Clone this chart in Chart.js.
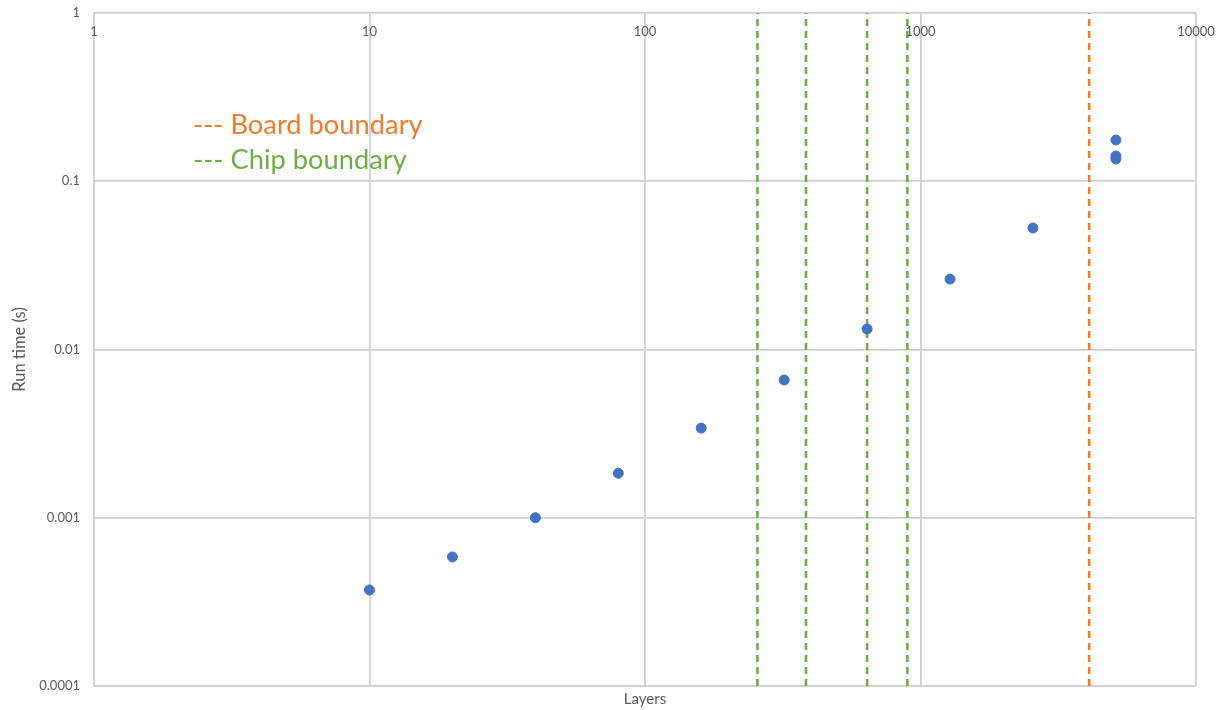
<!DOCTYPE html>
<html>
<head>
<meta charset="utf-8">
<script src="https://cdn.jsdelivr.net/npm/chart.js@4/dist/chart.umd.min.js"></script>
<style>
  html, body { margin: 0; padding: 0; background: #ffffff; }
  #wrap { position: relative; width: 1226px; height: 710px; }
</style>
</head>
<body>
<div id="wrap"><canvas id="c" width="1226" height="710"></canvas></div>
<script>
// ---- data ----
const layers   = [10, 20, 40, 80, 160, 320, 640, 1280, 2560, 5120, 5120, 5120];
const runTimes = [0.000372, 0.000585, 0.001, 0.00184, 0.00341, 0.00659, 0.01324, 0.0262, 0.0527, 0.1758, 0.1413, 0.1356];
const chipBoundaries  = [256, 384, 640, 896];
const boardBoundaries = [4096];
const xTickValues = [1, 10, 100, 1000, 10000];
const xTickLabels = ['1', '10', '100', '1000', '10000'];
const yTickValues = [0.0001, 0.001, 0.01, 0.1, 1];
const yTickLabels = ['0.0001', '0.001', '0.01', '0.1', '1'];
const legendLabels = ['--- Board boundary', '--- Chip boundary'];

const X_MIN = 1, X_MAX = 10000, Y_MIN = 0.0001, Y_MAX = 1;
const GREEN = '#70AD47', ORANGE = '#ED7D31', BLUE = '#4472C4';
const GRID = '#d0d0d0', TEXT = '#595959';
const FONT = 'Lato, Carlito, "Noto Sans", sans-serif';

function vline(x, color) {
  return {
    type: 'line',
    data: [{ x: x, y: Y_MIN }, { x: x, y: Y_MAX }],
    borderColor: color,
    borderWidth: 2.6,
    borderDash: [7, 5],
    pointRadius: 0,
    showLine: true,
    fill: false,
    order: 2
  };
}

const datasets = [
  {
    type: 'scatter',
    data: layers.map((v, i) => ({ x: v, y: runTimes[i] })),
    backgroundColor: BLUE,
    borderColor: BLUE,
    pointRadius: 5,
    pointHoverRadius: 5,
    order: 1
  },
  ...chipBoundaries.map(v => vline(v, GREEN)),
  ...boardBoundaries.map(v => vline(v, ORANGE))
];

const topLabelsPlugin = {
  id: 'topLabels',
  afterDraw(chart) {
    const ctx = chart.ctx;
    const xs = chart.scales.x;
    const area = chart.chartArea;
    ctx.save();
    ctx.font = '13px ' + FONT;
    ctx.fillStyle = TEXT;
    ctx.textAlign = 'center';
    ctx.textBaseline = 'middle';
    xTickValues.forEach((v, i) => {
      ctx.fillText(xTickLabels[i], xs.getPixelForValue(v), area.top + 19);
    });
    // annotation legend
    ctx.textAlign = 'left';
    ctx.font = '27.3px ' + FONT;
    ctx.fillStyle = ORANGE;
    ctx.fillText(legendLabels[0], 193, 125);
    ctx.fillStyle = GREEN;
    ctx.fillText(legendLabels[1], 193, 160);
    ctx.restore();
  }
};

new Chart(document.getElementById('c'), {
  type: 'scatter',
  data: { datasets },
  plugins: [topLabelsPlugin],
  options: {
    responsive: false,
    animation: false,
    events: [],
    layout: { padding: { top: 13, right: 30, bottom: 0, left: 0 } },
    plugins: { legend: { display: false }, tooltip: { enabled: false } },
    scales: {
      x: {
        type: 'logarithmic',
        position: 'bottom',
        min: X_MIN,
        max: X_MAX,
        afterBuildTicks(scale) { scale.ticks = xTickValues.map(v => ({ value: v })); },
        afterFit(scale) { scale.height = 24; scale.paddingLeft = 0; scale.paddingRight = 0; },
        ticks: { display: false },
        grid: { color: GRID, lineWidth: 1.8, drawTicks: false },
        border: { color: GRID, width: 1.8 },
        title: { display: true, text: 'Layers', color: TEXT, font: { family: FONT, size: 15 }, padding: { top: 0, bottom: 2 } }
      },
      y: {
        type: 'logarithmic',
        position: 'left',
        min: Y_MIN,
        max: Y_MAX,
        afterBuildTicks(scale) { scale.ticks = yTickValues.map(v => ({ value: v })); },
        afterFit(scale) { scale.width = 94; scale.paddingTop = 0; scale.paddingBottom = 0; },
        ticks: {
          color: TEXT,
          font: { family: FONT, size: 13 },
          padding: 14,
          autoSkip: false,
          callback(value) {
            const i = yTickValues.findIndex(t => Math.abs(t - value) / t < 1e-6);
            return i >= 0 ? yTickLabels[i] : '';
          }
        },
        grid: { color: GRID, lineWidth: 1.8, drawTicks: false },
        border: { color: GRID, width: 1.8 },
        title: { display: true, text: 'Run time (s)', color: TEXT, font: { family: FONT, size: 16.5 }, padding: { top: 10, bottom: 0 } }
      }
    }
  }
});
</script>
</body>
</html>
